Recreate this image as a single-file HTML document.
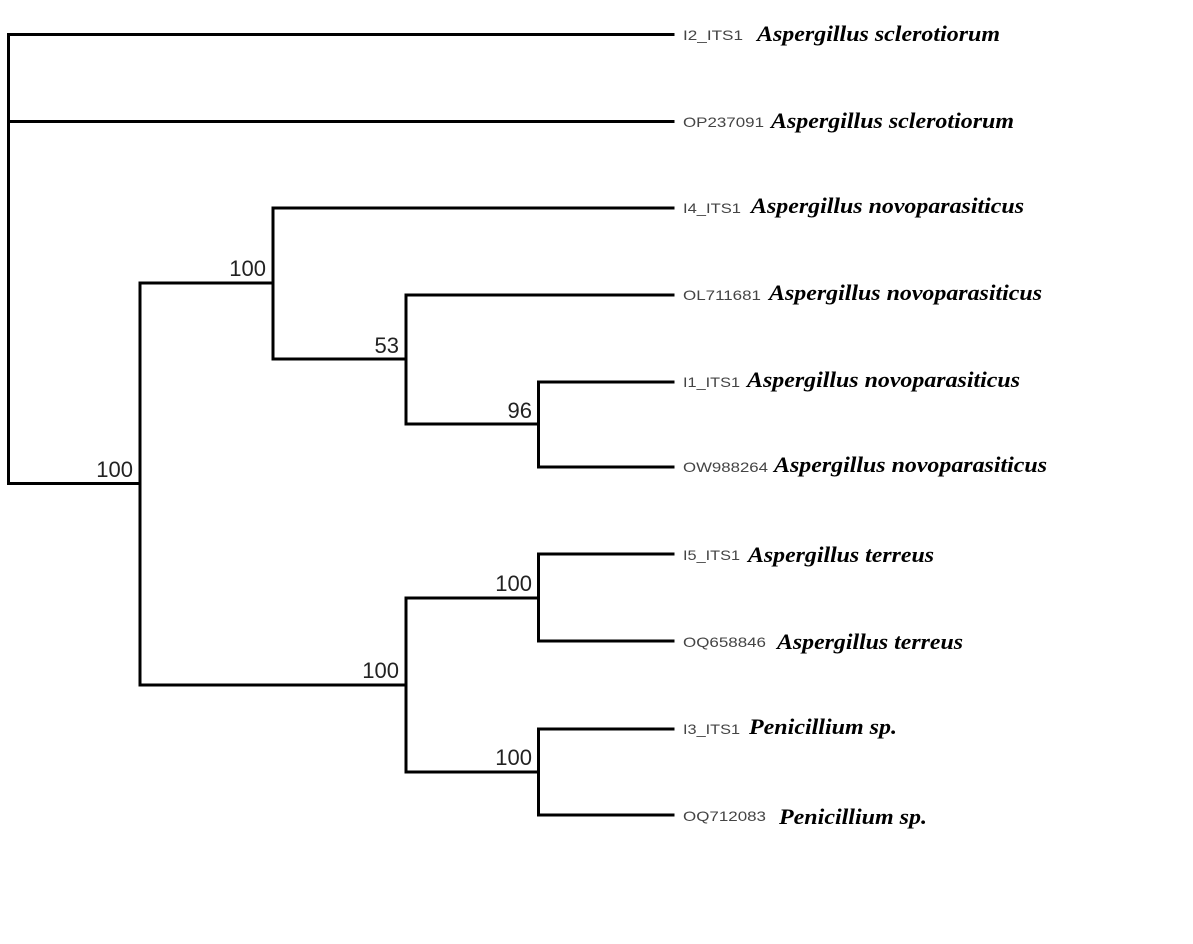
<!DOCTYPE html>
<html><head><meta charset="utf-8"><style>
html,body{margin:0;padding:0;background:#fff;width:1193px;height:944px;overflow:hidden}
.c{font-family:"Liberation Sans",Arial,sans-serif;font-size:14px;fill:#444}
.s{font-family:"Liberation Serif","Times New Roman",serif;font-size:22px;font-weight:bold;font-style:italic;fill:#000}
.b{font-family:"Liberation Sans",Arial,sans-serif;font-size:22px;fill:#222;text-anchor:end}
</style></head><body>
<svg width="1193" height="944" xmlns="http://www.w3.org/2000/svg">
<g stroke="#000" stroke-width="3" fill="none" stroke-linecap="square">
<path d="M8.5 34.5V483.5M8.5 34.5H673M8.5 121.5H673M8.5 483.5H140"/>
<path d="M140 283V685M140 283H273M140 685H406"/>
<path d="M273 208V359M273 208H673M273 359H406"/>
<path d="M406 295V424M406 295H673M406 424H538.5"/>
<path d="M538.5 382V467M538.5 382H673M538.5 467H673"/>
<path d="M406 598V772M406 598H538.5M406 772H538.5"/>
<path d="M538.5 554V641M538.5 554H673M538.5 641H673"/>
<path d="M538.5 729V815M538.5 729H673M538.5 815H673"/>
</g>
<text class="b" x="266" y="276">100</text>
<text class="b" x="133" y="477">100</text>
<text class="b" x="399" y="353">53</text>
<text class="b" x="532" y="418">96</text>
<text class="b" x="532" y="591">100</text>
<text class="b" x="399" y="678">100</text>
<text class="b" x="532" y="765">100</text>

<text class="c" x="683" y="40" textLength="60" lengthAdjust="spacingAndGlyphs">I2_ITS1</text><text class="s" x="757" y="41" textLength="243" lengthAdjust="spacingAndGlyphs">Aspergillus sclerotiorum</text>
<text class="c" x="683" y="127" textLength="81" lengthAdjust="spacingAndGlyphs">OP237091</text><text class="s" x="771" y="128" textLength="243" lengthAdjust="spacingAndGlyphs">Aspergillus sclerotiorum</text>
<text class="c" x="683" y="213" textLength="58" lengthAdjust="spacingAndGlyphs">I4_ITS1</text><text class="s" x="751" y="213" textLength="273" lengthAdjust="spacingAndGlyphs">Aspergillus novoparasiticus</text>
<text class="c" x="683" y="300" textLength="78" lengthAdjust="spacingAndGlyphs">OL711681</text><text class="s" x="769" y="300" textLength="273" lengthAdjust="spacingAndGlyphs">Aspergillus novoparasiticus</text>
<text class="c" x="683" y="387" textLength="57" lengthAdjust="spacingAndGlyphs">I1_ITS1</text><text class="s" x="747" y="387" textLength="273" lengthAdjust="spacingAndGlyphs">Aspergillus novoparasiticus</text>
<text class="c" x="683" y="472" textLength="85" lengthAdjust="spacingAndGlyphs">OW988264</text><text class="s" x="774" y="472" textLength="273" lengthAdjust="spacingAndGlyphs">Aspergillus novoparasiticus</text>
<text class="c" x="683" y="560" textLength="57" lengthAdjust="spacingAndGlyphs">I5_ITS1</text><text class="s" x="748" y="562" textLength="186" lengthAdjust="spacingAndGlyphs">Aspergillus terreus</text>
<text class="c" x="683" y="647" textLength="83" lengthAdjust="spacingAndGlyphs">OQ658846</text><text class="s" x="777" y="649" textLength="186" lengthAdjust="spacingAndGlyphs">Aspergillus terreus</text>
<text class="c" x="683" y="734" textLength="57" lengthAdjust="spacingAndGlyphs">I3_ITS1</text><text class="s" x="749" y="734" textLength="148" lengthAdjust="spacingAndGlyphs">Penicillium sp.</text>
<text class="c" x="683" y="821" textLength="83" lengthAdjust="spacingAndGlyphs">OQ712083</text><text class="s" x="779" y="824" textLength="148" lengthAdjust="spacingAndGlyphs">Penicillium sp.</text>
</svg>
</body></html>
